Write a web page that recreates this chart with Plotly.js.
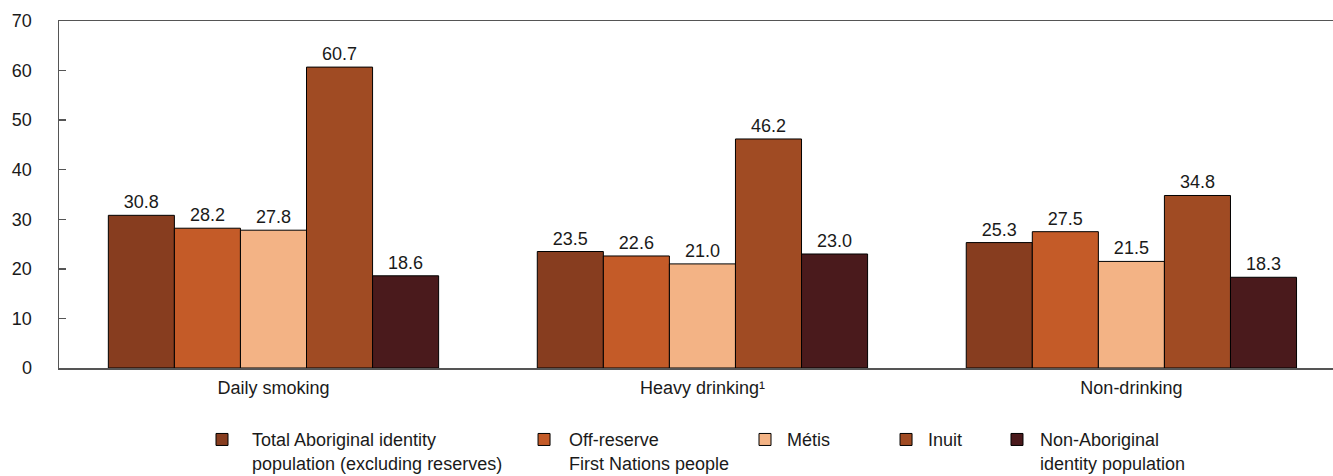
<!DOCTYPE html>
<html>
<head>
<meta charset="utf-8">
<script src="https://cdn.plot.ly/plotly-3.0.1.min.js"></script>
<style>
  html, body { margin: 0; padding: 0; background: #ffffff; }
  #chart { width: 1333px; height: 476px; }
</style>
</head>
<body>
<div id="chart"></div>
<script>
// Health behaviours by identity group (percent)
const categories = ['Daily smoking', 'Heavy drinking\u00B9', 'Non-drinking'];

const seriesNames = [
  'Total Aboriginal identity<br>population (excluding reserves)',
  'Off-reserve<br>First Nations people',
  'Métis',
  'Inuit',
  'Non-Aboriginal<br>identity population'
];

const totalAboriginal = [30.8, 23.5, 25.3];
const offReserveFirstNations = [28.2, 22.6, 27.5];
const metis = [27.8, 21.0, 21.5];
const inuit = [60.7, 46.2, 34.8];
const nonAboriginal = [18.6, 23.0, 18.3];

const yTicks = [0, 10, 20, 30, 40, 50, 60, 70];

const seriesValues = [totalAboriginal, offReserveFirstNations, metis, inuit, nonAboriginal];
const seriesColors = ['#873d1f', '#c45b28', '#f3b385', '#a04b23', '#4a1a1c'];

// one legend per series so each entry can sit at its own spot in the row
const legendIds = ['legend', 'legend2', 'legend3', 'legend4', 'legend5'];
const legendX = [0.1044, 0.3611, 0.5369, 0.6476, 0.7339];
const legendItemWidth = [50, 40, 34, 34, 36];

const FONT = 'Liberation Sans, Arial, sans-serif';
const FONT_SIZE = 18;
const TEXT_COLOR = '#1a1a1a';

const traces = seriesValues.map((vals, i) => ({
  type: 'bar',
  name: seriesNames[i],
  x: categories,
  y: vals,
  text: vals.map(v => v.toFixed(1)),
  textposition: 'outside',
  cliponaxis: false,
  textfont: { family: FONT, size: FONT_SIZE, color: TEXT_COLOR },
  marker: { color: seriesColors[i], line: { color: '#000000', width: 1 } },
  legend: legendIds[i],
  hoverinfo: 'x+y'
}));

const layout = {
  width: 1333,
  height: 476,
  margin: { l: 59, r: 0, t: 21, b: 108, autoexpand: false },
  paper_bgcolor: '#ffffff',
  plot_bgcolor: '#ffffff',
  font: { family: FONT, size: FONT_SIZE, color: TEXT_COLOR },
  barmode: 'group',
  bargap: 0.23,
  bargroupgap: 0,
  showlegend: true,
  xaxis: {
    type: 'category',
    range: [-0.5, 2.47],
    showline: true,
    linecolor: '#555555',
    linewidth: 1.5,
    mirror: true,
    ticks: '',
    showgrid: false,
    zeroline: false,
    automargin: false,
    tickfont: { family: FONT, size: FONT_SIZE, color: TEXT_COLOR },
    ticklabelstandoff: 3
  },
  yaxis: {
    range: [0, 70],
    tickvals: yTicks,
    showline: true,
    linecolor: '#555555',
    linewidth: 1.5,
    ticks: 'inside',
    ticklen: 7,
    tickcolor: '#555555',
    tickwidth: 1.5,
    showgrid: false,
    zeroline: false,
    automargin: false,
    tickfont: { family: FONT, size: FONT_SIZE, color: TEXT_COLOR },
    ticklabelstandoff: 22
  }
};

legendIds.forEach((id, i) => {
  layout[id] = {
    x: legendX[i],
    xanchor: 'left',
    xref: 'paper',
    y: 0.115,
    yanchor: 'top',
    yref: 'container',
    orientation: 'v',
    valign: 'top',
    itemwidth: legendItemWidth[i],
    bgcolor: 'rgba(0,0,0,0)',
    borderwidth: 0,
    font: { family: FONT, size: FONT_SIZE, color: TEXT_COLOR }
  };
});

Plotly.newPlot('chart', traces, layout, { displayModeBar: false, staticPlot: true });
</script>
</body>
</html>
